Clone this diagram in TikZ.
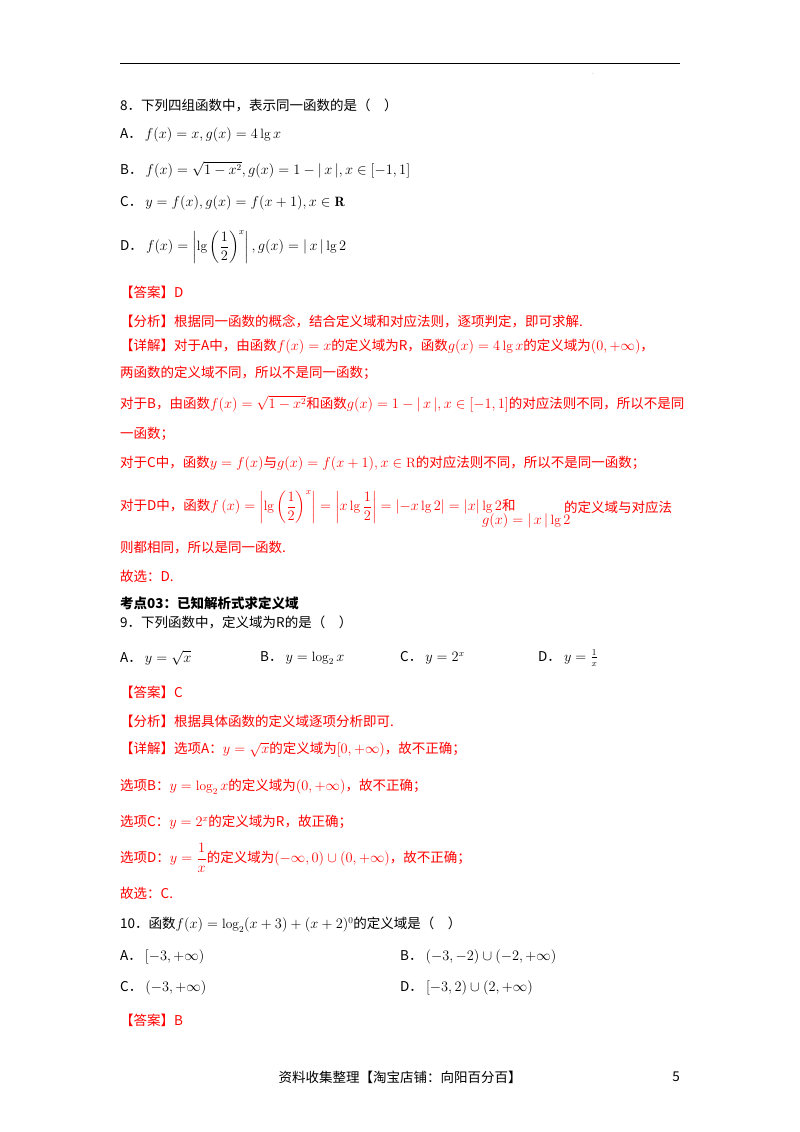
\documentclass[tikz,border=0pt]{standalone}
\usepackage{amsmath,amssymb}
\usepackage{fontspec}
\newfontfamily\cjk{Noto Sans CJK SC}
\definecolor{rd}{RGB}{255,0,0}
\begin{document}
\begin{tikzpicture}[x=1pt,y=-1pt,
 t/.style={anchor=west,inner sep=0pt,font=\cjk\fontsize{13.5}{16}\selectfont},
 r/.style={t,text=rd}]
\useasboundingbox (0,0) rectangle (800,1132);
\draw[line width=1pt] (120,64) -- (680,64);
\node[t,font=\tiny] (dot) at (592,74) {.};
\node[t] (q8) at (120,105) {8．下列四组函数中，表示同一函数的是（\quad ）};
\node[t] (a8) at (120,135) {A．\ $f(x)=x,g(x)=4\lg x$};
\node[t] (b8) at (120,170) {B．\ $f(x)=\sqrt{1-x^2},g(x)=1-|\,x\,|,x\in[-1,1]$};
\node[t] (c8) at (120,203) {C．\ $y=f(x),g(x)=f(x+1),x\in\mathbf{R}$};
\node[t] (d8) at (120,247) {D．\ $f(x)=\left|\lg\left(\dfrac12\right)^{x}\right|,g(x)=|\,x\,|\lg 2$};
\node[r] (ans8) at (120,292) {【答案】D};
\node[r] (an8) at (120,321) {【分析】根据同一函数的概念，结合定义域和对应法则，逐项判定，即可求解.};
\node[r] (x1) at (120,347) {【详解】对于A中，由函数$f(x)=x$的定义域为R，函数$g(x)=4\lg x$的定义域为$(0,+\infty)$，};
\node[r] (x2) at (120,373) {两函数的定义域不同，所以不是同一函数；};
\node[r] (x3) at (120,404) {对于B，由函数$f(x)=\sqrt{1-x^2}$和函数$g(x)=1-|\,x\,|,x\in[-1,1]$的对应法则不同，所以不是同};
\node[r] (x4) at (120,434) {一函数；};
\node[r] (x5) at (120,464) {对于C中，函数$y=f(x)$与$g(x)=f(x+1),x\in\mathrm{R}$的对应法则不同，所以不是同一函数；};
\node[r] (x6) at (120,507) {对于D中，函数$f\left(x\right)=\left|\lg\left(\dfrac12\right)^{x}\right|=\left|x\lg\dfrac12\right|=\left|-x\lg2\right|=\left|x\right|\lg2$和};
\node[r] (x6b) at (564,507) {的定义域与对应法};
\node[r] (x6c) at (482,521) {$g(x)=|\,x\,|\lg2$};
\node[r] (x7) at (120,548) {则都相同，所以是同一函数.};
\node[r] (x8) at (120,576) {故选：D.};
\node[t,font=\cjk\bfseries\fontsize{13.5}{16}\selectfont] (kd) at (120,603) {考点03：已知解析式求定义域};
\node[t] (q9) at (120,622) {9．下列函数中，定义域为R的是（\quad ）};
\node[t] (a9) at (120,658) {A．\ $y=\sqrt{x}$};
\node[t] (b9) at (260,658) {B．\ $y=\log_2 x$};
\node[t] (c9) at (400,658) {C．\ $y=2^x$};
\node[t] (d9) at (538,658) {D．\ $y=\frac1x$};
\node[r] (ans9) at (120,692) {【答案】C};
\node[r] (an9) at (120,721) {【分析】根据具体函数的定义域逐项分析即可.};
\node[r] (y1) at (120,750) {【详解】选项A：$y=\sqrt{x}$的定义域为$\left[0,+\infty\right)$，故不正确；};
\node[r] (y2) at (120,787) {选项B：$y=\log_2 x$的定义域为$\left(0,+\infty\right)$，故不正确；};
\node[r] (y3) at (120,822) {选项C：$y=2^x$的定义域为R，故正确；};
\node[r] (y4) at (120,858) {选项D：$y=\dfrac1x$的定义域为$\left(-\infty,0\right)\cup\left(0,+\infty\right)$，故不正确；};
\node[r] (y5) at (120,893) {故选：C.};
\node[t] (q10) at (120,925) {10．函数$f(x)=\log_2(x+3)+(x+2)^0$的定义域是（\quad ）};
\node[t] (a10) at (120,957) {A．\ $[-3,+\infty)$};
\node[t] (b10) at (400,957) {B．\ $(-3,-2)\cup(-2,+\infty)$};
\node[t] (c10) at (120,988) {C．\ $(-3,+\infty)$};
\node[t] (d10) at (400,988) {D．\ $[-3,2)\cup(2,+\infty)$};
\node[r] (ans10) at (120,1020) {【答案】B};
\node[t,anchor=center] (ft) at (400,1077) {资料收集整理【淘宝店铺：向阳百分百】};
\node[t,anchor=center] (pg) at (676,1077) {5};
\end{tikzpicture}
\end{document}
